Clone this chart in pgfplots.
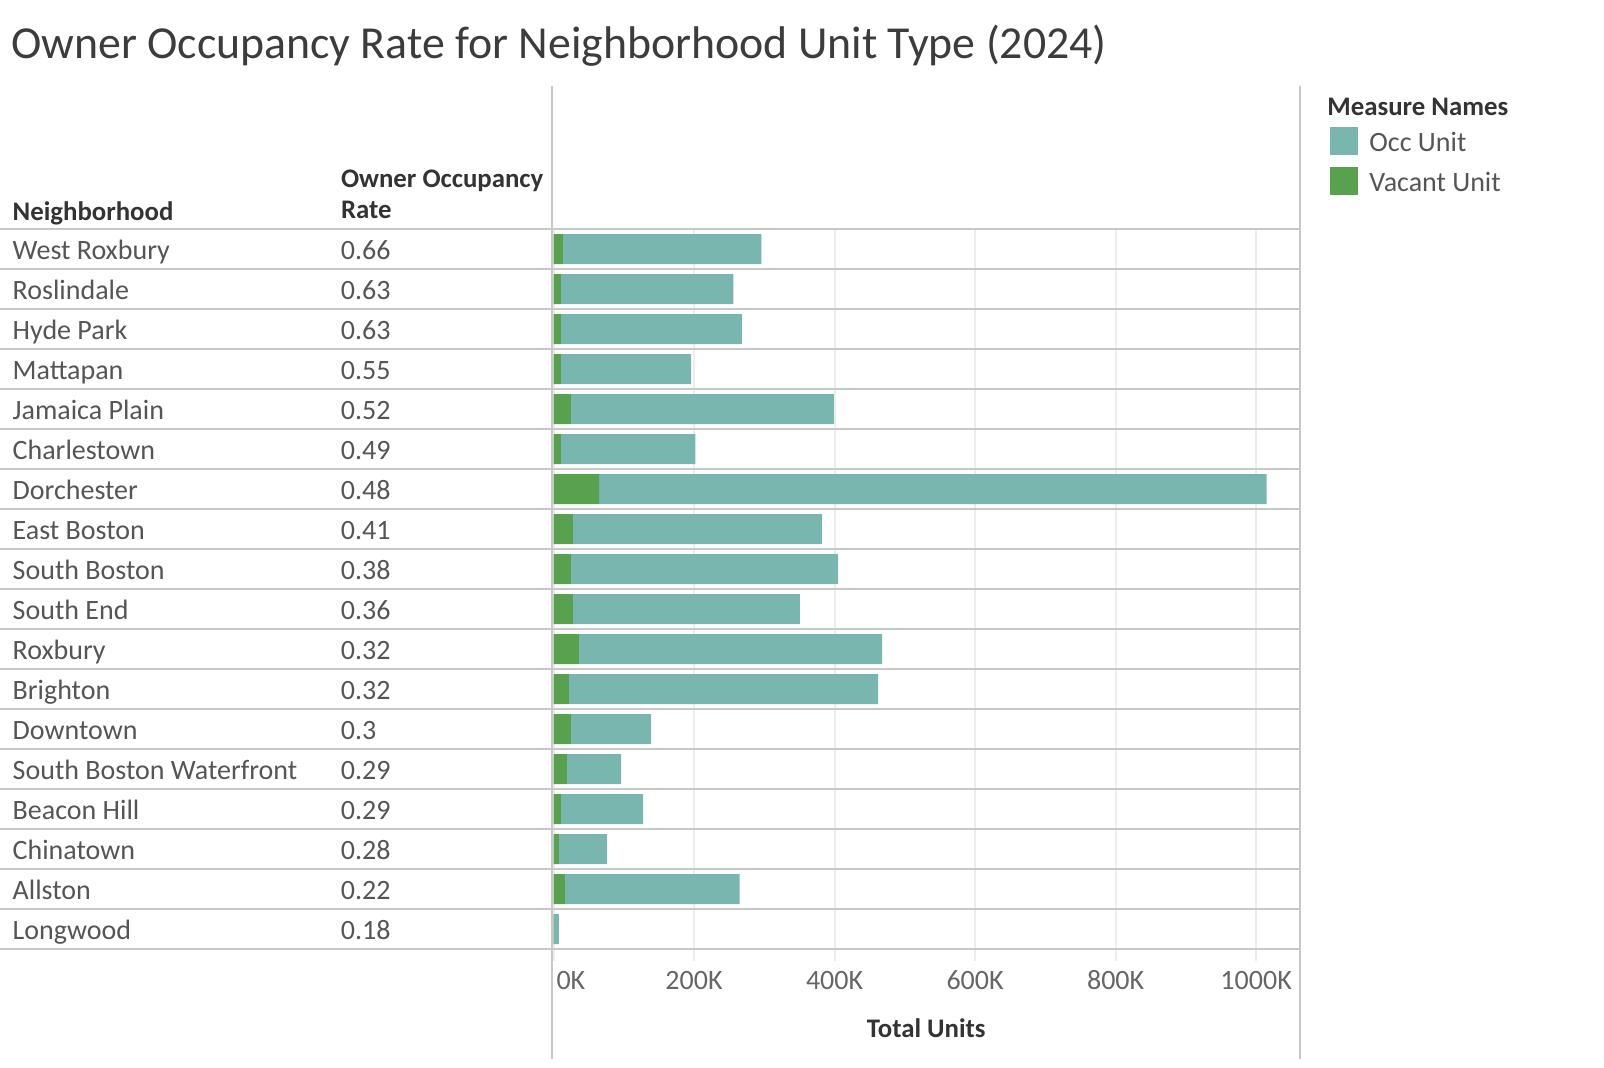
\documentclass[border=0pt]{standalone}
\usepackage{fontspec}
\setmainfont{Carlito}
\usepackage{pgfplots}
\pgfplotsset{compat=1.18}
\usepackage{pgfplotstable}

\definecolor{occ}{HTML}{79B6B0}
\definecolor{vac}{HTML}{59A14F}
\definecolor{rulec}{HTML}{C8C8C8}
\definecolor{gridc}{HTML}{EDEDED}
\definecolor{txt}{HTML}{555555}
\definecolor{tickc}{HTML}{666666}
\definecolor{hdr}{HTML}{333333}
\definecolor{titlec}{HTML}{3C3C3C}

\newcommand\bodyfont{\fontsize{14}{16.5}\selectfont}
\newcommand\boldfont{\fontsize{13.4}{16}\selectfont\bfseries}

% values in thousands of units
\pgfplotstableread{
idx vac occ
0  13.3 282.7
1  10.5 245.5
2  10.5 257.5
3  10.5 185.5
4  24.8 374.2
5  10.5 191.5
6  64.8 950.2
7  27.6 354.4
8  24.8 380.2
9  27.6 322.9
10 36.2 431.4
11 21.9 440.1
12 24.8 114.2
13 19.0 77.2
14 10.5 117.1
15 7.6  68.6
16 16.2 248.6
17 0.5  7.1
}\data

\newcommand\rowlab[2]{\makebox[164.15pt][l]{#1}#2}

\begin{document}
\begin{tikzpicture}
\path[use as bounding box] (0,0) rectangle (802pt,-534pt);

\begin{axis}[
  at={(276.75pt,-114.5pt)}, anchor=north west,
  width=372.75pt, height=360pt, scale only axis,
  xmin=0, xmax=1061, ymin=-0.5, ymax=17.5, y dir=reverse,
  xbar stacked, bar width=15pt,
  axis line style={draw=none},
  tick style={draw=none},
  xmajorgrids, grid style={gridc, line width=1pt},
  xtick={0,200,400,600,800,1000},
  xticklabels={{\makebox[0pt][l]{\hspace{1.5pt}0K}},200K,400K,600K,800K,1000K},
  xticklabel style={anchor=center, yshift=-15.5pt, font=\bodyfont, text=tickc},
  ytick={0,...,17},
  yticklabels={
    {\rowlab{West Roxbury}{0.66}},
    {\rowlab{Roslindale}{0.63}},
    {\rowlab{Hyde Park}{0.63}},
    {\rowlab{Mattapan}{0.55}},
    {\rowlab{Jamaica Plain}{0.52}},
    {\rowlab{Charlestown}{0.49}},
    {\rowlab{Dorchester}{0.48}},
    {\rowlab{East Boston}{0.41}},
    {\rowlab{South Boston}{0.38}},
    {\rowlab{South End}{0.36}},
    {\rowlab{Roxbury}{0.32}},
    {\rowlab{Brighton}{0.32}},
    {\rowlab{Downtown}{0.3}},
    {\rowlab{South Boston Waterfront}{0.29}},
    {\rowlab{Beacon Hill}{0.29}},
    {\rowlab{Chinatown}{0.28}},
    {\rowlab{Allston}{0.22}},
    {\rowlab{Longwood}{0.18}}},
  yticklabel style={anchor=west, inner sep=0pt, xshift=-270.6pt, yshift=-2.8pt,
    text height=0.68em, text depth=0.22em, font=\bodyfont, text=txt},
  xlabel={Total Units},
  xlabel style={at={(axis description cs:0.5,0)}, anchor=center, yshift=-39.5pt,
    font=\boldfont, text=hdr},
]
\addplot[fill=vac, draw=none] table[x=vac, y=idx]{\data};
\addplot[fill=occ, draw=none] table[x=occ, y=idx]{\data};
\end{axis}

\begin{scope}[x=0.5pt,y=-0.5pt]
  % row rules
  \foreach \k in {0,...,18}{
    \draw[rulec, line width=1pt] (0,{229+40*\k}) -- (1300,{229+40*\k});
  }
  % grid extensions below the table
  \foreach \k in {0,...,5}{
    \draw[gridc, line width=1pt] ({553.5+140.5*\k},950) -- ({553.5+140.5*\k},961);
  }
  % vertical rules
  \draw[rulec, line width=1pt] (552,86) -- (552,1059);
  \draw[rulec, line width=1pt] (1300,86) -- (1300,1059);
  % title
  \node[anchor=base west, inner sep=0pt, font=\fontsize{22.9}{27}\selectfont, text=titlec]
    at (10.7,58.2) {Owner Occupancy Rate for Neighborhood Unit Type (2024)};
  % headers
  \node[anchor=base west, inner sep=0pt, font=\boldfont, text=hdr]
    at (12.3,221) {Neighborhood};
  \node[anchor=base west, inner sep=0pt, font=\boldfont, text=hdr]
    at (340.6,188) {Owner Occupancy};
  \node[anchor=base west, inner sep=0pt, font=\boldfont, text=hdr]
    at (340.6,219) {Rate};
  % legend
  \node[anchor=west, inner sep=0pt, font=\boldfont, text=hdr]
    at (1327,107) {Measure Names};
  \fill[occ] (1330,127) rectangle (1358,155);
  \fill[vac] (1330,167) rectangle (1358,195);
  \node[anchor=west, inner sep=0pt, font=\bodyfont, text=txt] at (1369,142) {Occ Unit};
  \node[anchor=west, inner sep=0pt, font=\bodyfont, text=txt] at (1369,182) {Vacant Unit};
\end{scope}
\end{tikzpicture}
\end{document}
